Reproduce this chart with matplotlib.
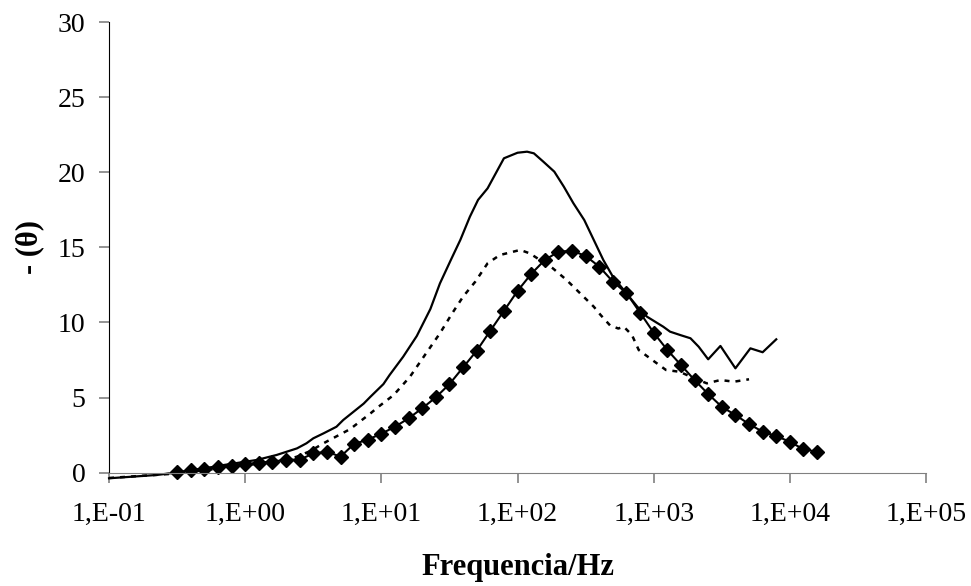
import matplotlib
matplotlib.use("Agg")
import matplotlib.pyplot as plt
import numpy as np

plt.rcParams['font.family'] = ['Liberation Serif', 'DejaVu Serif']

# curva continua (log10 da frequencia, -theta)
lx_cont = [-1.0, -0.65, -0.4, -0.16, 0.085, 0.23, 0.38, 0.45, 0.5, 0.575, 0.67, 0.72,
           0.87, 0.92, 1.015, 1.06, 1.16, 1.26, 1.36, 1.43, 1.51, 1.58, 1.65, 1.71,
           1.78, 1.84, 1.90, 2.0, 2.07, 2.12, 2.19, 2.27, 2.34, 2.41, 2.49, 2.56,
           2.63, 2.70, 2.80, 2.88, 2.95, 3.07, 3.12, 3.20, 3.27, 3.33, 3.40, 3.49,
           3.60, 3.71, 3.80, 3.90]
y_cont = [-0.37, -0.15, 0.13, 0.51, 0.85, 1.18, 1.62, 1.96, 2.29, 2.62, 3.06, 3.51,
          4.6, 5.06, 5.9, 6.5, 7.72, 9.1, 10.9, 12.6, 14.16, 15.5, 17.04, 18.16,
          18.93, 19.93, 20.93, 21.3, 21.37, 21.26, 20.7, 20.04, 19.04, 17.94, 16.82, 15.49,
          14.16, 13.05, 11.94, 11.05, 10.39, 9.72, 9.39, 9.15, 8.95, 8.39, 7.55, 8.44,
          6.95, 8.28, 8.02, 8.88]

# curva tracejada
lx_trac = [-1.0, -0.5, 0.0, 0.3, 0.38, 0.48, 0.575, 0.62, 0.77, 0.92, 0.98, 1.09,
           1.21, 1.32, 1.43, 1.52, 1.60, 1.69, 1.78, 1.87, 2.02, 2.09, 2.26, 2.36,
           2.46, 2.56, 2.61, 2.68, 2.74, 2.78, 2.84, 2.89, 2.99, 3.09, 3.19, 3.30,
           3.39, 3.49, 3.59, 3.70]
y_trac = [-0.35, -0.05, 0.5, 0.85, 1.07, 1.45, 1.96, 2.18, 2.9, 3.95, 4.4, 5.17,
          6.39, 7.84, 9.28, 10.61, 11.72, 12.72, 13.94, 14.49, 14.83, 14.6, 13.6, 12.83,
          11.94, 11.05, 10.5, 9.8, 9.6, 9.72, 9.17, 8.17, 7.5, 6.84, 6.72, 6.28,
          5.95, 6.17, 6.06, 6.22]

# curva com losangos
lx_mod = [-0.5, -0.4, -0.3, -0.2, -0.1, 0.0, 0.1, 0.2, 0.3, 0.4, 0.5, 0.6, 0.7, 0.8,
          0.9, 1.0, 1.1, 1.2, 1.3, 1.4, 1.5, 1.6, 1.7, 1.8, 1.9, 2.0, 2.1, 2.2, 2.3,
          2.4, 2.5, 2.6, 2.7, 2.8, 2.9, 3.0, 3.1, 3.2, 3.3, 3.4, 3.5, 3.6, 3.7, 3.8,
          3.9, 4.0, 4.1, 4.2]
y_mod = [0.03, 0.17, 0.28, 0.38, 0.48, 0.56, 0.67, 0.73, 0.87, 0.87, 1.28, 1.40, 1.07, 1.92,
         2.2, 2.6, 3.06, 3.62, 4.29, 5.02, 5.9, 7.01, 8.12, 9.45, 10.77, 12.1, 13.23, 14.16, 14.71,
         14.78, 14.43, 13.72, 12.72, 11.96, 10.65, 9.32, 8.17, 7.17, 6.17, 5.24, 4.39, 3.84, 3.24, 2.73,
         2.44, 2.06, 1.56, 1.40]

xticks = [1e-1, 1e0, 1e1, 1e2, 1e3, 1e4, 1e5]
xticklabels = ['1,E-01', '1,E+00', '1,E+01', '1,E+02', '1,E+03', '1,E+04', '1,E+05']
yticks = [0, 5, 10, 15, 20, 25, 30]

fig = plt.figure(figsize=(9.71, 5.86), dpi=100)
ax = fig.add_axes([0.1123, 0.1933, 0.8414, 0.7691])

ax.plot(10 ** np.array(lx_cont), y_cont, color='black', lw=1.6, clip_on=False)
ax.plot(10 ** np.array(lx_trac), y_trac, color='black', lw=1.8,
        dashes=(2.0, 2.4), clip_on=False)
ax.plot(10 ** np.array(lx_mod), y_mod, color='black', lw=1.5,
        marker='D', markersize=7, clip_on=False)

ax.set_xscale('log')
ax.set_xlim(1e-1, 1e5)
ax.set_ylim(0, 30)
ax.set_xticks(xticks)
ax.set_xticklabels(xticklabels)
ax.minorticks_off()
ax.set_yticks(yticks)

for s in ['top', 'right']:
    ax.spines[s].set_visible(False)
ax.spines['bottom'].set_color('#808080')
ax.spines['left'].set_color('black')
ax.tick_params(axis='both', colors='#808080', labelcolor='black', length=7,
               width=1.2, labelsize=20)
ax.tick_params(axis='x', pad=14)
ax.tick_params(axis='y', pad=10)

ax.set_xlabel('Frequencia/Hz', fontsize=22, fontweight='bold', labelpad=19)
ax.set_ylabel('- (θ)', fontsize=22, fontweight='bold', labelpad=10)

fig.savefig('out.png', dpi=100)
